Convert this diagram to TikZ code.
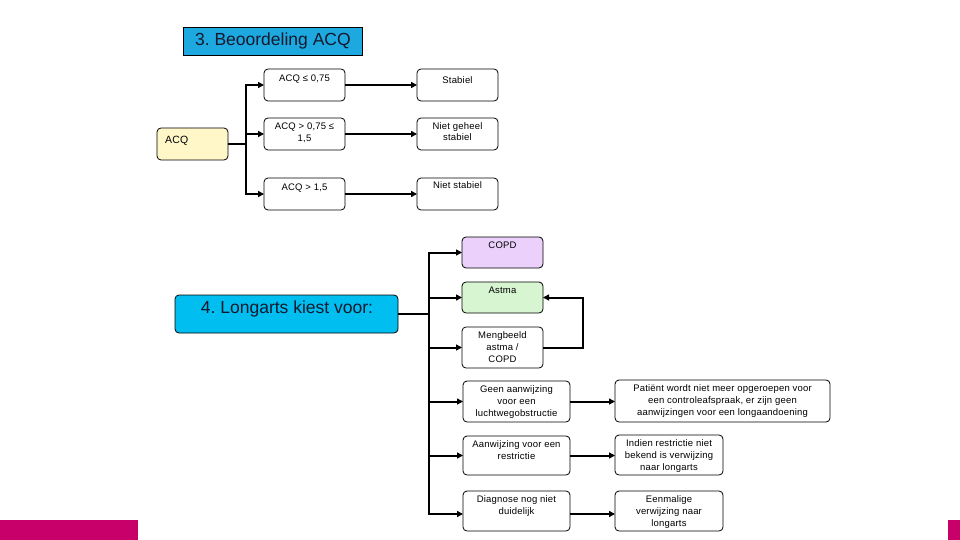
\documentclass[tikz,border=0pt]{standalone}
\usepackage{fontspec}
\setmainfont{Liberation Sans}
\newfontfamily\boxfont[LetterSpace=2]{Liberation Sans}
\usetikzlibrary{arrows.meta}
\definecolor{titlecyan}{RGB}{30,168,224}
\definecolor{lbcyan}{RGB}{0,190,240}
\definecolor{acqyellow}{RGB}{255,247,200}
\definecolor{copdpurple}{RGB}{234,208,250}
\definecolor{astmagreen}{RGB}{214,245,208}
\definecolor{barmagenta}{RGB}{200,0,106}
\definecolor{titleink}{RGB}{20,25,45}
\tikzset{
  box/.style={draw=black, line width=0.8pt, rounded corners=4pt, anchor=north west,
    inner sep=0pt, outer sep=0pt, fill=white},
  txt/.style={anchor=north, align=center, inner sep=4.5pt, font=\boxfont\fontsize{9.5}{12}\selectfont},
  conn/.style={draw=black, line width=2pt},
  arr/.style={conn, -{Triangle[length=6pt,width=6pt]}},
  bigtxt/.style={font=\fontsize{17.5}{20}\selectfont, text=titleink},
}
\frenchspacing
\begin{document}
\begin{tikzpicture}[x=1pt,y=-1pt]
\useasboundingbox (0,0) rectangle (960,540);
\fill[white] (0,0) rectangle (960,540);
% magenta bars
\fill[barmagenta] (0,520) rectangle (138,540);
\fill[barmagenta] (948,520) rectangle (960,540);

% section 3
\node[draw=black, line width=0.8pt, fill=titlecyan, anchor=north west, minimum width=179pt,
  minimum height=28pt, inner sep=0pt, bigtxt] (title) at (183,27) {3. Beoordeling ACQ};

\node[box, fill=acqyellow, minimum width=71pt, minimum height=32pt] (acq) at (157,128) {};
\node[anchor=west, inner sep=0pt, font=\boxfont\fontsize{10.5}{12}\selectfont] (acqt) at (165,141) {ACQ};

\node[box, minimum width=81pt, minimum height=32pt, label={[txt,inner sep=5.5pt]north:{ACQ ≤ 0,75}}] (a1) at (264,69) {};
\node[box, minimum width=81pt, minimum height=32pt, label={[txt,inner sep=5pt]north:{ACQ > 0,75 ≤\\1,5}}] (a2) at (264,118) {};
\node[box, minimum width=81pt, minimum height=32pt, label={[txt,inner sep=6pt]north:{ACQ > 1,5}}] (a3) at (264,178) {};

\node[box, minimum width=81pt, minimum height=32pt, label={[txt,inner sep=7pt]north:{Stabiel}}] (s1) at (417,69) {};
\node[box, minimum width=81pt, minimum height=32pt, label={[txt,font=\boxfont\fontsize{9.5}{11}\selectfont,inner sep=4pt]north:{Niet geheel\\stabiel}}] (s2) at (417,118) {};
\node[box, minimum width=81pt, minimum height=32pt, label={[txt,inner sep=3.5pt]north:{Niet stabiel}}] (s3) at (417,178) {};

\coordinate (j1) at (246,144);
\draw[conn] (acq.east) -- (j1);
\draw[arr] (j1) |- (a1.west);
\draw[arr] (j1) |- (a2.west);
\draw[arr] (j1) |- (a3.west);
\draw[arr] (a1.east) -- (s1.west);
\draw[arr] (a2.east) -- (s2.west);
\draw[arr] (a3.east) -- (s3.west);

% section 4
\node[box, fill=lbcyan, minimum width=223pt, minimum height=38pt, inner sep=0pt] (lb) at (175,295) {};
\node[inner sep=0pt, bigtxt] (lbt) at (287,309) {4. Longarts kiest voor:};

\node[box, fill=copdpurple, minimum width=81pt, minimum height=31pt, label={[txt]north:{COPD}}] (copd) at (462,237) {};
\node[box, fill=astmagreen, minimum width=81pt, minimum height=31pt, label={[txt]north:{Astma}}] (astma) at (462,282) {};
\node[box, minimum width=81pt, minimum height=41pt, label={[txt]north:{Mengbeeld\\astma /\\COPD}}] (meng) at (462,327) {};

\node[box, minimum width=107pt, minimum height=41pt, label={[txt]north:{Geen aanwijzing\\voor een\\luchtwegobstructie}}] (geen) at (463,381) {};
\node[box, minimum width=107pt, minimum height=39pt, label={[txt]north:{Aanwijzing voor een\\restrictie}}] (aanw) at (463,436) {};
\node[box, minimum width=107pt, minimum height=40pt, label={[txt]north:{Diagnose nog niet\\duidelijk}}] (diag) at (463,491) {};

\node[box, minimum width=215pt, minimum height=42pt, label={[txt]north:{Patiënt wordt niet meer opgeroepen voor\\een controleafspraak, er zijn geen\\aanwijzingen voor een longaandoening}}] (pat) at (615,380) {};
\node[box, minimum width=108pt, minimum height=40pt, label={[txt]north:{Indien restrictie niet\\bekend is verwijzing\\naar longarts}}] (ind) at (615,435) {};
\node[box, minimum width=108pt, minimum height=40pt, label={[txt]north:{Eenmalige\\verwijzing naar\\longarts}}] (een) at (615,491) {};

\coordinate (j2) at (429,314);
\draw[conn] (lb.east) -- (j2);
\draw[arr] (j2) |- (copd.west);
\draw[arr] (j2) |- (astma.west);
\draw[arr] (j2) |- (meng.west);
\draw[arr] (j2) |- (geen.west);
\draw[arr] (j2) |- (aanw.west);
\draw[arr] (j2) |- ([yshift=-3pt]diag.west);
\draw[arr] (meng.east) -- ++(40,0) |- (astma.east);

\draw[arr] (geen.east) -- (pat.west |- geen.east);
\draw[arr] (aanw.east) -- (ind.west |- aanw.east);
\draw[arr] ([yshift=-3pt]diag.east) -- ([yshift=-3pt]een.west);
\end{tikzpicture}
\end{document}
